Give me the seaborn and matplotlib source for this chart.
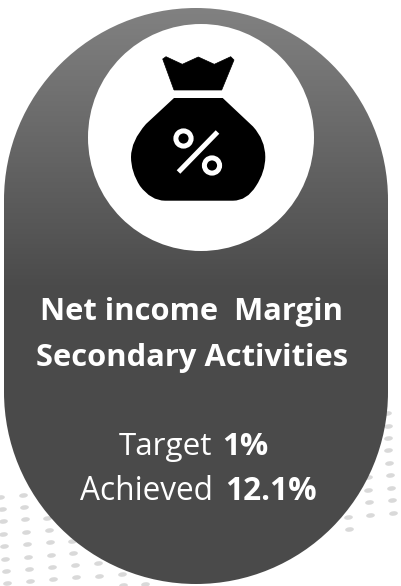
import numpy as np
import matplotlib
matplotlib.use("Agg")
import matplotlib.pyplot as plt
import seaborn as sns
from matplotlib.patches import Circle, Ellipse, PathPatch
from matplotlib.path import Path
from matplotlib.transforms import Affine2D

# Texts of the card
title_lines = ["Net income  Margin", "Secondary Activities"]
target_label = "Target"
target_value = "1%"
achieved_label = "Achieved"
achieved_value = "12.1%"

# Decorative dots behind the card (pixels of the picture)
dot_x = [0, 2, 3, 3, 4, 5, 6, 7,
         23, 24, 25, 26, 27, 28, 29, 30,
         47, 49, 50, 51, 52, 53,
         72, 73, 75, 76,
         98, 99,
         122, 123,
         145,
         387, 388, 388, 388, 389, 390, 391, 392, 393,
         368, 368, 369, 370,
         348, 349]
dot_y = [497, 509, 521, 534, 546, 559, 571, 583,
         495, 507, 519, 532, 544, 557, 569, 581,
         518, 530, 542, 555, 567, 579,
         541, 553, 565, 577,
         563, 576,
         574, 585,
         584,
         413, 426, 438, 450, 463, 475, 488, 500, 513,
         477, 490, 502, 515,
         517, 529]


def capsule_path(left, right, top, bottom):
    """Контур капсулы из двух настоящих полукругов"""
    r = (right - left) / 2
    cx = left + r
    upper = Path.arc(180, 360)
    lower = Path.arc(0, 180)
    verts = np.vstack([upper.vertices * r + [cx, top + r],
                       lower.vertices * r + [cx, bottom - r],
                       [[left, top + r]]])
    codes = np.concatenate([upper.codes, lower.codes, [Path.CLOSEPOLY]])
    codes[len(upper.codes)] = Path.LINETO
    return Path(verts, codes)


sns.set_theme(style="white")
plt.rcParams['font.family'] = ['Open Sans', 'DejaVu Sans']

fig = plt.figure(figsize=(4.01, 5.86), dpi=100, facecolor="white")
ax = fig.add_axes([0, 0, 1, 1])

# Ellipse marker, slightly tilted like the dots in the background
dot_marker = Path.unit_circle().transformed(Affine2D().scale(1, 0.52).rotate_deg(6))
sns.scatterplot(x=dot_x, y=dot_y, marker=dot_marker, s=40, color="#d9d9d9",
                linewidth=0, ax=ax, zorder=1)

# Card with the vertical gradient
card = PathPatch(capsule_path(4, 388, 8, 584), facecolor="none", edgecolor="none", zorder=2)
ax.add_patch(card)
cmap = sns.blend_palette(["#818181", "#4a4a4a"], as_cmap=True)
shade = np.clip(np.linspace(0, 1, 576).reshape(-1, 1) / 0.49, 0, 1)
img = ax.imshow(shade, cmap=cmap, vmin=0, vmax=1, extent=(4, 388, 584, 8),
                aspect="auto", zorder=2)
img.set_clip_path(card)

# White circle of the icon
ax.add_patch(Ellipse((201, 137.5), 226, 227, facecolor="white", edgecolor="none", zorder=3))

# Money bag
crown_verts = [(174, 90), (162.7, 59), (166, 56.7), (182.3, 64.3), (198.3, 57),
               (214.3, 64.3), (230.7, 56.7), (234, 60), (221.7, 90), (174, 90)]
ax.add_patch(PathPatch(Path(crown_verts), facecolor="black", edgecolor="black",
                       linewidth=0.5, joinstyle="round", zorder=4))

body_verts = [(174, 98), (222.7, 98), (253, 126.5),
              (265.3, 140), (265.3, 157),
              (265.3, 172), (256, 186),
              (247, 200.7), (233, 200.7),
              (165, 200.7),
              (151, 200.7), (140, 186),
              (131, 172), (131, 157),
              (131, 141), (146, 124),
              (174, 98)]
body_codes = [Path.MOVETO, Path.LINETO, Path.LINETO,
              Path.CURVE3, Path.CURVE3,
              Path.CURVE3, Path.CURVE3,
              Path.CURVE3, Path.CURVE3,
              Path.LINETO,
              Path.CURVE3, Path.CURVE3,
              Path.CURVE3, Path.CURVE3,
              Path.CURVE3, Path.CURVE3,
              Path.LINETO]
ax.add_patch(PathPatch(Path(body_verts, body_codes), facecolor="black", edgecolor="none", zorder=4))

# Percent sign on the bag
ax.plot([217.5, 178.5], [132, 172], color="white", lw=3.6, solid_capstyle="butt", zorder=5)
for cx, cy in [(183.5, 138.5), (212, 165.5)]:
    ax.add_patch(Circle((cx, cy), 7.6, facecolor="none", edgecolor="white", linewidth=3.6, zorder=5))

# Texts
ax.text(192, 320, title_lines[0], color="white", fontsize=22.2, fontweight="bold",
        ha="center", va="baseline", zorder=6)
ax.text(192, 366, title_lines[1], color="white", fontsize=22.2, fontweight="bold",
        ha="center", va="baseline", zorder=6)
ax.text(212, 455, target_label, color="white", fontsize=22.6, ha="right", va="baseline", zorder=6)
ax.text(222, 455, target_value, color="white", fontsize=22.6, fontweight="bold",
        ha="left", va="baseline", zorder=6)
ax.text(213, 500, achieved_label, color="white", fontsize=22.8, ha="right", va="baseline", zorder=6)
ax.text(225, 500, achieved_value, color="white", fontsize=22.8, fontweight="bold",
        ha="left", va="baseline", zorder=6)

ax.set_xlim(0, 401)
ax.set_ylim(586, 0)
ax.set_axis_off()

fig.savefig("out.png", dpi=100)
plt.close(fig)
